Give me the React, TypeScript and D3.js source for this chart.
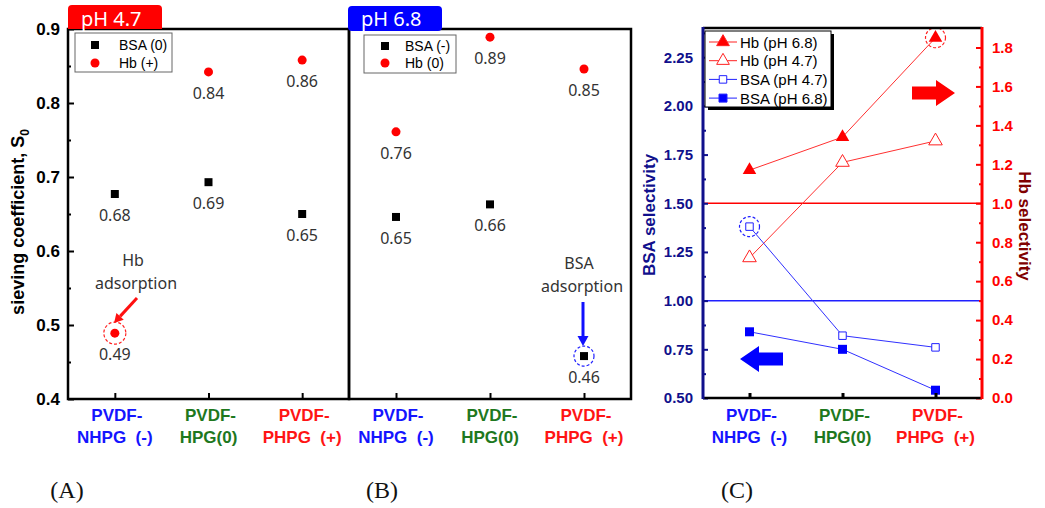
import React, { useEffect, useRef } from "react";
import {
  scaleLinear,
  scalePoint,
  axisLeft,
  axisRight,
  axisBottom,
  select,
  line,
  symbol,
  symbolSquare,
  symbolTriangle,
  symbolCircle,
  format
} from "d3";

// categories (membranes)
const categories = ["NHPG", "HPG", "PHPG"];
const catTop = ["PVDF-", "PVDF-", "PVDF-"];
const catBottom = ["NHPG  (-)", "HPG(0)", "PHPG  (+)"];
const catColors = ["#1414ff", "#1e781e", "#ff1414"];

// (A) pH 4.7 sieving coefficients
const bsaA = [0.677, 0.693, 0.65];
const hbA = [0.489, 0.842, 0.858];
// (B) pH 6.8 sieving coefficients
const bsaB = [0.646, 0.663, 0.458];
const hbB = [0.761, 0.889, 0.846];

// (C) selectivities
const hb68 = [1.17, 1.34, 1.85];
const hb47 = [0.72, 1.21, 1.32];
const bsa47 = [1.38, 0.82, 0.76];
const bsa68 = [0.84, 0.75, 0.54];

// tick labels
const sieveTicks = [0.4, 0.5, 0.6, 0.7, 0.8, 0.9];
const sieveMinor = [0.45, 0.55, 0.65, 0.75, 0.85];
const bsaTicks = [0.5, 0.75, 1.0, 1.25, 1.5, 1.75, 2.0, 2.25];
const bsaMinor = [0.625, 0.875, 1.125, 1.375, 1.625, 1.875, 2.125, 2.375];
const hbTicks = [0, 0.2, 0.4, 0.6, 0.8, 1.0, 1.2, 1.4, 1.6, 1.8];
const hbMinor = [0.1, 0.3, 0.5, 0.7, 0.9, 1.1, 1.3, 1.5, 1.7];

const SANS = "'Liberation Sans', Arial, sans-serif";
const LABEL = "'Noto Sans', 'Open Sans', sans-serif";
const SERIF = "'Liberation Serif', 'Times New Roman', serif";
const NAVY = "#10108c";
const DARKRED = "#800000";

function Axis({ orient, scale, values, size, fmt, x = 0, y = 0, color = "#000", fontSize = 16, padding = 6, width = 2 }) {
  const ref = useRef(null);
  useEffect(() => {
    const gen =
      orient === "left" ? axisLeft(scale) : orient === "right" ? axisRight(scale) : axisBottom(scale);
    gen.tickValues(values).tickSizeInner(size).tickSizeOuter(0).tickPadding(padding).tickFormat(fmt);
    const g = select(ref.current).call(gen);
    g.select(".domain").remove();
    g.style("color", color)
      .attr("font-family", SANS)
      .attr("font-size", fontSize)
      .attr("font-weight", "bold");
    g.selectAll("line").attr("stroke-width", width);
  }, [orient, scale, values, size, fmt, color, fontSize, padding, width]);
  return <g ref={ref} transform={`translate(${x},${y})`} />;
}

function Arrow({ x1, y1, x2, y2, color, w = 3, head = 9 }) {
  const dx = x2 - x1, dy = y2 - y1;
  const len = Math.hypot(dx, dy);
  const ux = dx / len, uy = dy / len;
  const bx = x2 - ux * head, by = y2 - uy * head;
  const px = -uy * head * 0.55, py = ux * head * 0.55;
  return (
    <g>
      <line x1={x1} y1={y1} x2={bx} y2={by} stroke={color} strokeWidth={w} />
      <polygon points={`${x2},${y2} ${bx + px},${by + py} ${bx - px},${by - py}`} fill={color} />
    </g>
  );
}

function BlockArrow({ x, y, dir, color }) {
  // shaft 24 x 13, head 19 x 26
  const s = dir;
  const pts = [
    [0, -6.5], [24, -6.5], [24, -13], [43, 0], [24, 13], [24, 6.5], [0, 6.5]
  ].map(([a, b]) => `${x + s * a},${y + b}`);
  return <polygon points={pts.join(" ")} fill={color} />;
}

const sq = (size) => symbol(symbolSquare, size)();
const circ = (size) => symbol(symbolCircle, size)();
const tri = (size) => symbol(symbolTriangle, size)();

function CategoryLabels({ x }) {
  return (
    <g fontFamily={SANS} fontWeight="bold" fontSize={17} textAnchor="middle">
      {categories.map((c, i) => (
        <g key={c} fill={catColors[i]}>
          <text x={x(c) + 2} y={421}>{catTop[i]}</text>
          <text x={x(c)} y={443} xmlSpace="preserve">{catBottom[i]}</text>
        </g>
      ))}
    </g>
  );
}

function ScatterPanel({ x, y, bsa, hb, left, right, top, bottom }) {
  const f = format(".2f");
  return (
    <g>
      {categories.map((c, i) => (
        <g key={c}>
          <path d={sq(64)} transform={`translate(${x(c)},${y(bsa[i])})`} fill="#000" />
          <path d={circ(64)} transform={`translate(${x(c)},${y(hb[i])})`} fill="#ff0000" />
        </g>
      ))}
      <g fontFamily={LABEL} fontSize={16} fill="#333" textAnchor="middle">
        {categories.map((c, i) => (
          <g key={c}>
            <text x={x(c)} y={y(bsa[i]) + 27}>{f(bsa[i])}</text>
            <text x={x(c)} y={y(hb[i]) + 27}>{f(hb[i])}</text>
          </g>
        ))}
      </g>
      <Axis orient="bottom" scale={x} values={categories} size={-6} fmt={() => ""} y={bottom} />
      <rect x={left} y={top} width={right - left} height={bottom - top} fill="none" stroke="#000" strokeWidth={2.5} />
    </g>
  );
}

export default function App() {
  const W = 1045, H = 508;

  // panels A and B share the sieving coefficient scale
  const ySieve = scaleLinear().domain([0.4, 0.9]).range([399, 29]);
  const xA = scalePoint().domain(categories).range([68, 349]).padding(0.5);
  const xB = scalePoint().domain(categories).range([349, 631]).padding(0.5);

  // panel C
  const xC = scalePoint().domain(categories).range([703, 982]).padding(0.5);
  const yL = scaleLinear().domain([0.5, 2.4]).range([398, 28]);
  const yR = scaleLinear().domain([0, 1.9]).range([398, 28]);

  const hbLine = line().x((d, i) => xC(categories[i])).y((d) => yR(d));
  const bsaLine = line().x((d, i) => xC(categories[i])).y((d) => yL(d));

  const legendC = [
    { label: "Hb (pH 6.8)", color: "#ff2020", shape: tri(70), fill: "#ff0000" },
    { label: "Hb (pH 4.7)", color: "#ff2020", shape: tri(70), fill: "#fff" },
    { label: "BSA (pH 4.7)", color: "#2020ff", shape: sq(56), fill: "#fff" },
    { label: "BSA (pH 6.8)", color: "#2020ff", shape: sq(64), fill: "#0000ff" }
  ];

  return (
    <svg width={W} height={H} style={{ position: "absolute", left: 0, top: 0, background: "#fff" }}>
      <rect width={W} height={H} fill="#fff" />

      {/* ---------- (A) ---------- */}
      <Axis orient="left" scale={ySieve} values={sieveTicks} size={-6} fmt={format(".1f")} x={68} fontSize={17} padding={8} />
      <Axis orient="left" scale={ySieve} values={sieveMinor} size={-3} fmt={() => ""} x={68} />
      <text
        transform="translate(24,222) rotate(-90)"
        textAnchor="middle"
        fontFamily={SANS}
        fontWeight="bold"
        fontSize={18}
        fill="#000"
      >
        sieving coefficient, S<tspan fontSize={12} dy={5}>0</tspan>
      </text>
      <ScatterPanel x={xA} y={ySieve} bsa={bsaA} hb={hbA} left={68} right={349} top={29} bottom={399} />
      <CategoryLabels x={xA} />

      <rect x={68} y={5} width={94} height={24} rx={4} fill="#ff0000" />
      <rect x={68} y={20} width={94} height={9} fill="#ff0000" />
      <text x={81} y={26} fontFamily={LABEL} fontSize={20} fill="#fff">pH 4.7</text>

      <g>
        <rect x={75} y={33} width={97} height={39} fill="#fff" stroke="#666" strokeWidth={1} />
        <path d={sq(64)} transform="translate(95,45)" fill="#000" />
        <path d={circ(64)} transform="translate(95,63)" fill="#ff0000" />
        <g fontFamily={SANS} fontSize={14} fill="#000">
          <text x={119} y={50}>BSA (0)</text>
          <text x={119} y={68}>Hb (+)</text>
        </g>
      </g>

      <circle cx={xA(categories[0])} cy={ySieve(hbA[0])} r={11} fill="none" stroke="#ff2020" strokeWidth={1.2} strokeDasharray="3,2" />
      <Arrow x1={137} y1={298} x2={114} y2={323} color="#ff1010" w={3} head={9} />
      <g fontFamily={LABEL} fontSize={16} fill="#333" textAnchor="middle">
        <text x={133} y={266}>Hb</text>
        <text x={136} y={289}>adsorption</text>
      </g>

      {/* ---------- (B) ---------- */}
      <ScatterPanel x={xB} y={ySieve} bsa={bsaB} hb={hbB} left={349} right={631} top={29} bottom={399} />
      <CategoryLabels x={xB} />

      <rect x={348} y={6} width={94} height={25} rx={4} fill="#0000ff" />
      <text x={361} y={26} fontFamily={LABEL} fontSize={20} fill="#fff">pH 6.8</text>

      <g>
        <rect x={364} y={35} width={92} height={38} fill="#fff" stroke="#666" strokeWidth={1} />
        <path d={sq(64)} transform="translate(385,46)" fill="#000" />
        <path d={circ(64)} transform="translate(385,63)" fill="#ff0000" />
        <g fontFamily={SANS} fontSize={14} fill="#000">
          <text x={405} y={51}>BSA (-)</text>
          <text x={405} y={68}>Hb (0)</text>
        </g>
      </g>

      <circle cx={xB(categories[2])} cy={ySieve(bsaB[2])} r={10} fill="none" stroke="#2020ff" strokeWidth={1.2} strokeDasharray="3,2" />
      <Arrow x1={583} y1={302} x2={583} y2={346} color="#1010ff" w={3} head={10} />
      <g fontFamily={LABEL} fontSize={16} fill="#333" textAnchor="middle">
        <text x={579} y={269}>BSA</text>
        <text x={582} y={292}>adsorption</text>
      </g>

      {/* ---------- (C) ---------- */}
      <line x1={703} x2={982} y1={yR(1.0)} y2={yR(1.0)} stroke="#ff0000" strokeWidth={1.5} />
      <line x1={703} x2={982} y1={yL(1.0)} y2={yL(1.0)} stroke="#2020ff" strokeWidth={1.5} />

      <path d={hbLine(hb68)} fill="none" stroke="#ff3030" strokeWidth={1} />
      <path d={hbLine(hb47)} fill="none" stroke="#ff3030" strokeWidth={1} />
      <path d={bsaLine(bsa47)} fill="none" stroke="#3030ff" strokeWidth={1} />
      <path d={bsaLine(bsa68)} fill="none" stroke="#3030ff" strokeWidth={1} />

      {categories.map((c, i) => (
        <g key={c}>
          <path d={tri(80)} transform={`translate(${xC(c)},${yR(hb68[i])})`} fill="#ff0000" />
          <path d={tri(80)} transform={`translate(${xC(c)},${yR(hb47[i])})`} fill="#fff" stroke="#ff2020" strokeWidth={1} />
          <path d={sq(56)} transform={`translate(${xC(c)},${yL(bsa47[i])})`} fill="#fff" stroke="#2020ff" strokeWidth={1} />
          <path d={sq(81)} transform={`translate(${xC(c)},${yL(bsa68[i])})`} fill="#0000ff" />
        </g>
      ))}

      <circle cx={xC(categories[0])} cy={yL(bsa47[0])} r={10} fill="none" stroke="#2020ff" strokeWidth={1.2} strokeDasharray="3,2" />
      <circle cx={xC(categories[2])} cy={yR(hb68[2])} r={10} fill="none" stroke="#ff2020" strokeWidth={1.2} strokeDasharray="3,2" />

      <BlockArrow x={912} y={93} dir={1} color="#ff0000" />
      <BlockArrow x={783} y={359} dir={-1} color="#0000ff" />

      <Axis orient="left" scale={yL} values={bsaTicks} size={-5} fmt={format(".2f")} x={703} color={NAVY} fontSize={15} padding={10} />
      <Axis orient="left" scale={yL} values={bsaMinor} size={-3} fmt={() => ""} x={703} color={NAVY} />
      <Axis orient="right" scale={yR} values={hbTicks} size={-6} fmt={format(".1f")} x={982} color="#ff0000" fontSize={15} padding={10} />
      <Axis orient="right" scale={yR} values={hbMinor} size={-3} fmt={() => ""} x={982} color="#ff0000" />
      <Axis orient="bottom" scale={xC} values={categories} size={-5} fmt={() => ""} y={398} width={3} />

      <line x1={703} x2={982} y1={28} y2={28} stroke="#000" strokeWidth={2.5} />
      <line x1={703} x2={982} y1={398} y2={398} stroke="#000" strokeWidth={2.5} />
      <line x1={703} x2={703} y1={27} y2={399} stroke={NAVY} strokeWidth={3} />
      <line x1={982} x2={982} y1={27} y2={399} stroke="#ff0000" strokeWidth={3} />

      <text
        transform="translate(655,215) rotate(-90)"
        textAnchor="middle"
        fontFamily={SANS}
        fontWeight="bold"
        fontSize={17}
        fill={NAVY}
      >
        BSA selectivity
      </text>
      <text
        transform="translate(1019,226) rotate(90)"
        textAnchor="middle"
        fontFamily={SANS}
        fontWeight="bold"
        fontSize={17}
        fill={DARKRED}
      >
        Hb selectivity
      </text>

      <g>
        <rect x={708} y={34} width={126} height={76} fill="#000" />
        <rect x={705} y={31} width={126} height={76} fill="#fff" stroke="#000" strokeWidth={1} />
        {legendC.map((d, i) => {
          const ly = 42 + i * 18.7;
          return (
            <g key={d.label}>
              <line x1={709} x2={737} y1={ly} y2={ly} stroke={d.color} strokeWidth={1} />
              <path d={d.shape} transform={`translate(723,${ly})`} fill={d.fill} stroke={d.color} strokeWidth={1} />
              <text x={740} y={ly + 5.5} fontFamily={SANS} fontSize={15} fill="#000">{d.label}</text>
            </g>
          );
        })}
      </g>

      <CategoryLabels x={xC} />

      {/* panel letters */}
      <g fontFamily={SERIF} fontSize={24} fill="#111" textAnchor="middle">
        <text x={67} y={498}>(A)</text>
        <text x={382} y={498}>(B)</text>
        <text x={737} y={498}>(C)</text>
      </g>
    </svg>
  );
}
